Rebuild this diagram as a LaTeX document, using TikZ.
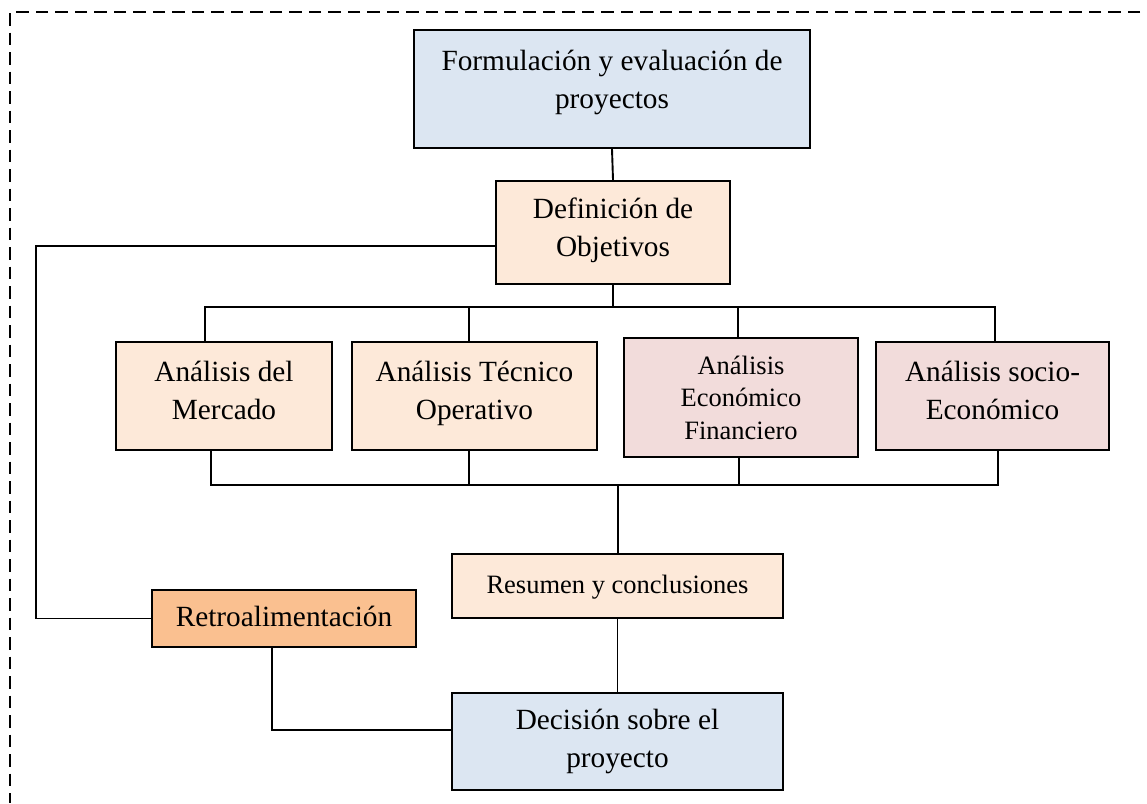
\documentclass[tikz,border=0pt]{standalone}
\usepackage{fontspec}
\setmainfont{Liberation Serif}
\definecolor{cblue}{HTML}{DCE6F2}
\definecolor{cpeach}{HTML}{FDE9D9}
\definecolor{cpink}{HTML}{F2DCDB}
\definecolor{corange}{HTML}{FAC090}
\pgfkeys{/tikz/txth/.initial=26.6pt,/tikz/txtd/.initial=11.4pt}
\begin{document}
\begin{tikzpicture}[x=1pt,y=-1pt,
  box/.style={draw=black,line width=2.4pt,rectangle,align=center,inner sep=0pt,
    font=\fontsize{29.3}{38}\selectfont,
    execute at begin node={\rule{0pt}{\pgfkeysvalueof{/tikz/txth}}},
    execute at end node={\rule[-\pgfkeysvalueof{/tikz/txtd}]{0pt}{0pt}}},
  smallbox/.style={box,font=\fontsize{26.5}{32.5}\selectfont},
  conn/.style={line width=1.9pt,draw=black},
  frame/.style={line width=2.6pt,dash pattern=on 12.5pt off 7pt}]
\useasboundingbox (0,0) rectangle (1147,803);
\draw[frame] (1140,12) -- (10,12) -- (10,803);
% nodes
\node[box,fill=cblue,minimum width=396pt,minimum height=118pt,txtd=19.4pt] (top) at (612,89)
  {Formulación y evaluación de\\proyectos};
\node[box,fill=cpeach,minimum width=234pt,minimum height=103pt] (def) at (613,232.5)
  {Definición de\\Objetivos};
\node[box,fill=cpeach,minimum width=216pt,minimum height=108pt] (mer) at (224,396)
  {Análisis del\\Mercado};
\node[box,fill=cpeach,minimum width=245pt,minimum height=108pt] (tec) at (474.5,396)
  {Análisis Técnico\\Operativo};
\node[smallbox,fill=cpink,minimum width=234pt,minimum height=119pt,txth=28pt,txtd=0pt] (eco) at (741,397.5)
  {Análisis\\Económico\\Financiero};
\node[box,fill=cpink,minimum width=233pt,minimum height=108pt] (soc) at (992.5,396)
  {Análisis socio-\\Económico};
\node[smallbox,fill=cpeach,minimum width=331pt,minimum height=64pt] (res) at (617.5,586)
  {Resumen y conclusiones};
\node[box,fill=cblue,minimum width=331pt,minimum height=97pt,txth=32pt,txtd=0pt] (dec) at (617.5,741.5)
  {Decisión sobre el\\proyecto};
\node[box,fill=corange,minimum width=264pt,minimum height=57pt] (ret) at (284,618.5)
  {Retroalimentación};
% helper coordinates
\coordinate (busA) at (613,307);
\coordinate (busB) at (618,485);
\coordinate (fbk) at (36,617);
% connectors
\draw[conn] (top.south) -- (def.north);
\draw[conn] (def.south) -- (busA);
\draw[conn] ([xshift=-19pt]mer.north) |- (busA);
\draw[conn] ([xshift=2.5pt]soc.north) |- (busA);
\draw[conn] ([xshift=-5.5pt]tec.north) -- ([xshift=-5.5pt]tec.north |- busA);
\draw[conn] ([xshift=-3pt]eco.north) -- ([xshift=-3pt]eco.north |- busA);
\draw[conn] ([xshift=-13pt]mer.south) |- (busB);
\draw[conn] ([xshift=5.5pt]soc.south) |- (busB);
\draw[conn] ([xshift=-5.5pt]tec.south) -- ([xshift=-5.5pt]tec.south |- busB);
\draw[conn] ([xshift=-2pt]eco.south) -- ([xshift=-2pt]eco.south |- busB);
\draw[conn] (busB) -- (res.north -| busB);
\draw[conn] (res.south) -- (dec.north);
\draw[conn] ([yshift=-13.5pt]def.west) -| (fbk) |- (ret.west);
\draw[conn] ([xshift=-12pt]ret.south) |- ([yshift=11.5pt]dec.west);
\end{tikzpicture}
\end{document}
